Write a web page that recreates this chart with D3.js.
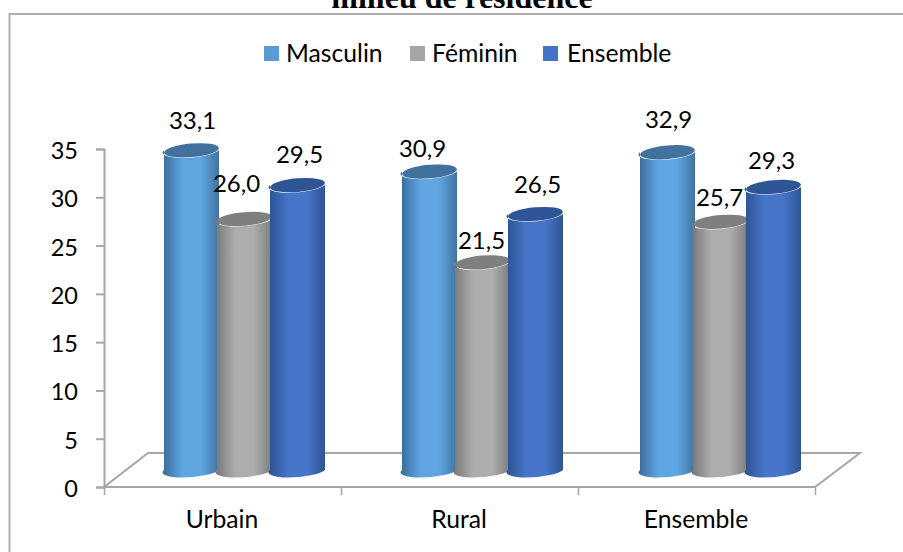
<!DOCTYPE html>
<html><head><meta charset="utf-8">
<script src="https://cdn.jsdelivr.net/npm/d3@7"></script>
<style>html,body{margin:0;padding:0;background:#fff;overflow:hidden}svg{display:block}text{font-family:Lato,sans-serif;fill:#000}</style>
</head><body><svg id="c" width="903" height="552"></svg>
<script>
const categories = ["Urbain","Rural","Ensemble"];
const seriesNames = ["Masculin","Féminin","Ensemble"];
const masculin = [33.1,30.9,32.9];
const feminin = [26.0,21.5,25.7];
const ensemble = [29.5,26.5,29.3];
const yTicks = [0,5,10,15,20,25,30,35];
const titleText = "milieu de résidence";
const fmt = v => v.toFixed(1).replace(".",",");

const svg = d3.select("#c");
const x0 = 104, x1 = 815, yBase = 487, yTop = 149, depthX = 44, depthY = 34;
const y = d3.scaleLinear().domain([0,35]).range([yBase,yTop]);
const x = d3.scaleBand().domain(categories).range([x0,x1]);
const xBars = d3.scaleBand().domain(categories).range([125.5,839.5]);
const inner = d3.scaleBand().domain(seriesNames).range([-79.5,79.5]);
const barW = 55, rx = barW/2, ry = 6.8, barDy = 17, tilt = -5;

const palettes = [
 {top:"#41719c",edge1:"#3a6a98",mid:"#5fa5e2",edge2:"#41749f",sw:"#5b9bd5"},
 {top:"#7f7f7f",edge1:"#777777",mid:"#adadad",edge2:"#7c7c7c",sw:"#a5a5a5"},
 {top:"#2f5597",edge1:"#2c5290",mid:"#4775ca",edge2:"#2f5592",sw:"#4472c4"}
];
const defs = svg.append("defs");
palettes.forEach((p,i)=>{
  const g = defs.append("linearGradient").attr("id","g"+i);
  [[0,p.edge1],[.35,p.mid],[.68,p.mid],[1,p.edge2]].forEach(s=>g.append("stop").attr("offset",s[0]).attr("stop-color",s[1]));
});

svg.append("path").attr("d","M9.5,560L9.5,14L910,14")
  .attr("fill","none").attr("stroke","#afafaf").attr("stroke-width",2);

svg.append("text").text(titleText).attr("x",462).attr("y",8).attr("text-anchor","middle")
  .style("font-family","'Liberation Serif'").style("font-weight","700").style("font-size","32px");

// legend
const legendSw = [264,410,543], legendTx = [286,432,567];
seriesNames.forEach((n,i)=>{
  svg.append("rect").attr("x",legendSw[i]).attr("y",46).attr("width",15).attr("height",15).attr("fill",palettes[i].sw);
  svg.append("text").text(n).attr("x",legendTx[i]).attr("y",62).style("font-size","24.7px");
});

// floor
const axisCol = "#a6a6a6";
svg.append("path").attr("d",d3.line()([[x0,yBase],[x0+depthX,yBase-depthY],[x1+depthX+1,yBase-depthY],[x1,yBase],[x0,yBase]]))
  .attr("fill","none").attr("stroke",axisCol).attr("stroke-width",2);

// axes
const gy = svg.append("g").attr("transform",`translate(${x0},0)`)
  .call(d3.axisLeft(y).tickValues(yTicks).tickSize(8).tickPadding(18));
gy.selectAll("path,line").attr("stroke",axisCol).attr("stroke-width",2);
gy.selectAll("text").style("font-size","23.5px").style("font-family","Lato").attr("y",2);
const gx = svg.append("g").attr("transform",`translate(0,${yBase})`)
  .call(d3.axisBottom(d3.scaleLinear().domain([0,3]).range([x0,x1])).tickValues([0,1,2,3]).tickSize(8).tickFormat(""));
gx.select("path").remove();
gx.selectAll("line").attr("stroke",axisCol).attr("stroke-width",1.5);
categories.forEach(c=>{
  svg.append("text").text(c).attr("x",x(c)+x.bandwidth()/2-0.5).attr("y",528)
    .attr("text-anchor","middle").style("font-size","24.7px");
});

// cylinders
const values = [masculin,feminin,ensemble];
const cyl = (cx,yt,yb) => `M${cx-rx},${yt}L${cx-rx},${yb}A${rx},${ry} ${tilt} 0 0 ${cx+rx},${yb}L${cx+rx},${yt}A${rx},${ry} ${tilt} 0 1 ${cx-rx},${yt}Z`;
const labelDx = [[1,-8,2],[-7,-1,2],[1,-1,-2]];
const labelDy = [[-21,-27,-22],[-14.6,-13.4,-21],[-24.3,-16,-18]];
const centerOf = (c,s) => xBars(c)+xBars.bandwidth()/2 + inner(s) + inner.bandwidth()/2;
categories.forEach(c=>{
  seriesNames.forEach((s,si)=>{
    const cx = centerOf(c,s);
    const v = values[si][categories.indexOf(c)];
    const yt = y(v)-barDy, yb = yBase-barDy;
    svg.append("path").attr("d",cyl(cx,yt,yb)).attr("fill",`url(#g${si})`);
    svg.append("ellipse").attr("cx",cx).attr("cy",yt).attr("rx",rx).attr("ry",ry)
      .attr("transform",`rotate(${tilt} ${cx} ${yt})`).attr("fill",palettes[si].top);
  });
});
// labels on top
categories.forEach((c,ci)=>{
  seriesNames.forEach((s,si)=>{
    const v = values[si][ci];
    svg.append("text").text(fmt(v)).attr("x",centerOf(c,s)+labelDx[ci][si]).attr("y",y(v)-barDy+labelDy[ci][si])
      .attr("text-anchor","middle").style("font-size","24px");
  });
});
</script></body></html>
